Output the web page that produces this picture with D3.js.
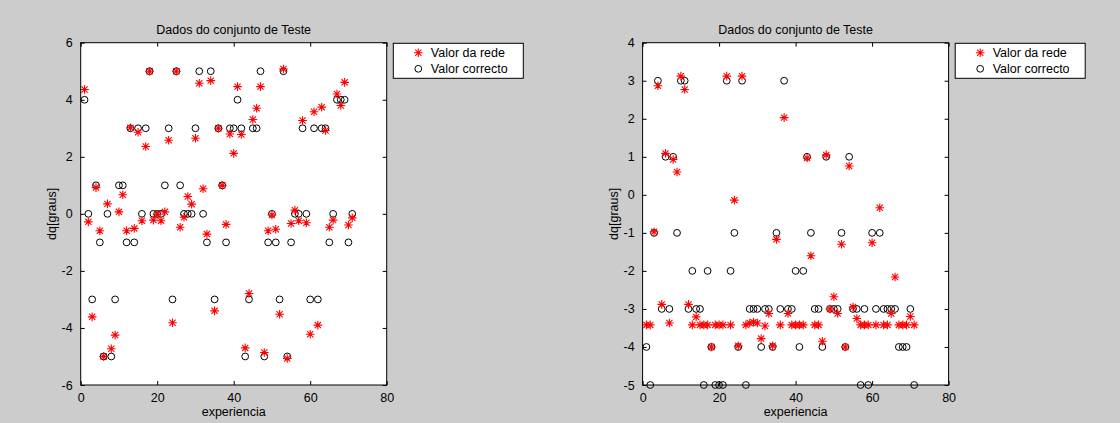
<!DOCTYPE html>
<html>
<head>
<meta charset="utf-8">
<script src="https://cdn.jsdelivr.net/npm/d3@7/dist/d3.min.js"></script>
<style>
  html, body { margin: 0; padding: 0; background: #cccccc; }
  svg { display: block; }
  text { font-family: "Liberation Sans", Arial, Helvetica, sans-serif; fill: #000; }
</style>
</head>
<body>
<svg id="chart" width="1120" height="423"></svg>
<script>
// Experiment number (x axis) shared by both plots
const experiencia = [
  1, 2, 3, 4, 5, 6, 7, 8, 9, 10, 11, 12, 13, 14, 15, 16, 17, 18, 19, 20,
  21, 22, 23, 24, 25, 26, 27, 28, 29, 30, 31, 32, 33, 34, 35, 36, 37, 38, 39, 40,
  41, 42, 43, 44, 45, 46, 47, 48, 49, 50, 51, 52, 53, 54, 55, 56, 57, 58, 59, 60,
  61, 62, 63, 64, 65, 66, 67, 68, 69, 70, 71
];

// Left plot: network output and correct value (dq, degrees)
const redeEsq = [
  4.36, -0.28, -3.61, 0.92, -0.59, -5.0, 0.35, -4.73, -4.25, 0.07,
  0.67, -0.59, 3.02, -0.51, 2.86, -0.24, 2.36, 5.0, -0.22, -0.02,
  -0.24, 0.07, 2.58, -3.82, 5.0, -0.47, -0.12, 0.61, 0.34, 2.65,
  4.58, 0.88, -0.71, 4.67, -3.4, 3.0, 1.0, -0.37, 2.8, 2.12,
  4.46, 2.78, -4.7, -2.79, 3.31, 3.7, 4.46, -4.86, -0.59, -0.04,
  -0.54, -3.52, 5.08, -5.07, -0.34, 0.13, -0.24, 3.27, -0.31, -4.22,
  3.58, -3.9, 3.74, 2.92, -0.47, -0.22, 4.2, 3.8, 4.61, -0.39, -0.14
];
const corrEsq = [
  4, 0, -3, 1, -1, -5, 0, -5, -3, 1,
  1, -1, 3, -1, 3, 0, 3, 5, 0, 0,
  0, 1, 3, -3, 5, 1, 0, 0, 0, 3,
  5, 0, -1, 5, -3, 3, 1, -1, 3, 3,
  4, 3, -5, -3, 3, 3, 5, -5, -1, 0,
  -1, -3, 5, -5, -1, 0, 0, 3, 0, -3,
  3, -3, 3, 3, -1, 0, 4, 4, 4, -1, 0
];

// Right plot: network output and correct value (dq, degrees)
const redeDir = [
  -3.42, -3.42, -0.97, 2.87, -2.88, 1.09, -3.37, 0.93, 0.6, 3.12,
  2.77, -2.88, -3.42, -3.21, -3.42, -3.42, -3.42, -4.0, -3.42, -3.42,
  -3.42, 3.12, -3.42, -0.14, -3.97, 3.12, -3.42, -3.37, -3.35, -3.37,
  -3.78, -3.45, -3.12, -3.97, -1.17, -3.42, 2.03, -3.12, -3.42, -3.42,
  -3.42, -3.42, 0.97, -1.6, -3.42, -3.42, -3.85, 1.05, -3.0, -2.68,
  -3.12, -1.3, -4.0, 0.76, -2.95, -3.25, -3.42, -3.42, -3.42, -1.26,
  -3.42, -0.34, -3.42, -3.42, -3.12, -2.16, -3.42, -3.42, -3.42, -3.2, -3.42
];
const corrDir = [
  -4, -5, -1, 3, -3, 1, -3, 1, -1, 3,
  3, -3, -2, -3, -3, -5, -2, -4, -5, -5,
  -5, 3, -2, -1, -4, 3, -5, -3, -3, -3,
  -4, -3, -3, -4, -1, -3, 3, -3, -3, -2,
  -4, -2, 1, -1, -3, -3, -4, 1, -3, -3,
  -3, -1, -4, 1, -3, -3, -5, -3, -5, -1,
  -3, -1, -3, -3, -3, -3, -4, -4, -4, -3, -5
];

// Axis ranges and tick values
const xDominio = [0, 80];
const xTicks = [0, 20, 40, 60, 80];
const yDominioEsq = [-6, 6];
const yTicksEsq = [-6, -4, -2, 0, 2, 4, 6];
const yDominioDir = [-5, 4];
const yTicksDir = [-5, -4, -3, -2, -1, 0, 1, 2, 3, 4];

// Text
const titulo = "Dados do conjunto de Teste";
const rotuloX = "experiencia";
const rotuloY = "dq[graus]";
const legendaNomes = ["Valor da rede", "Valor correcto"];

const svg = d3.select("#chart");

const paineis = [
  { left: 80.7, yDom: yDominioEsq, yTicks: yTicksEsq, rede: redeEsq, corr: corrEsq },
  { left: 642.6, yDom: yDominioDir, yTicks: yTicksDir, rede: redeDir, corr: corrDir }
];

const axTop = 42.7, axBottom = 385, axW = 306;
const tickLen = 4;
const fontSize = 12.5;

// '*' marker: plus sign overlaid with a cross
function starPath(cx, cy, r) {
  const d = r * 0.72;
  return `M${cx - r},${cy}L${cx + r},${cy}M${cx},${cy - r}L${cx},${cy + r}` +
         `M${cx - d},${cy - d}L${cx + d},${cy + d}M${cx - d},${cy + d}L${cx + d},${cy - d}`;
}

paineis.forEach(p => {
  const x = d3.scaleLinear().domain(xDominio).range([p.left, p.left + axW]);
  const y = d3.scaleLinear().domain(p.yDom).range([axBottom, axTop]);
  const g = svg.append("g");

  // white plotting area
  g.append("rect")
    .attr("x", p.left).attr("y", axTop)
    .attr("width", axW).attr("height", axBottom - axTop)
    .attr("fill", "#ffffff");

  // data: correct values (circles)
  const dadosCorr = experiencia.map((e, i) => ({ e, v: p.corr[i] }));
  const dadosRede = experiencia.map((e, i) => ({ e, v: p.rede[i] }));

  g.append("g").selectAll("circle").data(dadosCorr).join("circle")
    .attr("cx", d => x(d.e)).attr("cy", d => y(d.v)).attr("r", 3.4)
    .attr("fill", "none").attr("stroke", "#000").attr("stroke-width", 1);

  // data: network output (red stars)
  g.append("g").selectAll("path").data(dadosRede).join("path")
    .attr("d", d => starPath(x(d.e), y(d.v), 4.3))
    .attr("fill", "none").attr("stroke", "#ff0000").attr("stroke-width", 1.1);

  // axes with inward ticks on all four sides
  const axB = d3.axisBottom(x).tickValues(xTicks).tickSizeInner(-tickLen).tickSizeOuter(0).tickPadding(8);
  const axT = d3.axisTop(x).tickValues(xTicks).tickSizeInner(-tickLen).tickSizeOuter(0).tickFormat("");
  const axL = d3.axisLeft(y).tickValues(p.yTicks).tickSizeInner(-tickLen).tickSizeOuter(0).tickPadding(8);
  const axR = d3.axisRight(y).tickValues(p.yTicks).tickSizeInner(-tickLen).tickSizeOuter(0).tickFormat("");

  const gb = g.append("g").attr("transform", `translate(0,${axBottom})`).call(axB);
  const gt = g.append("g").attr("transform", `translate(0,${axTop})`).call(axT);
  const gl = g.append("g").attr("transform", `translate(${p.left},0)`).call(axL);
  const gr = g.append("g").attr("transform", `translate(${p.left + axW},0)`).call(axR);

  [gb, gt, gl, gr].forEach(a => {
    a.select(".domain").remove();
    a.selectAll("line").attr("stroke", "#000");
    a.selectAll("text")
      .style("font-family", '"Liberation Sans", Arial, sans-serif')
      .style("font-size", fontSize + "px").attr("fill", "#000");
  });
  gl.selectAll("text").text(d => d < 0 ? "-" + Math.abs(d) : d);

  // frame
  g.append("rect")
    .attr("x", p.left).attr("y", axTop)
    .attr("width", axW).attr("height", axBottom - axTop)
    .attr("fill", "none").attr("stroke", "#000").attr("stroke-width", 1);

  // title and axis labels
  g.append("text").attr("x", p.left + axW / 2).attr("y", 34)
    .attr("text-anchor", "middle").style("font-size", fontSize + "px").text(titulo);
  g.append("text").attr("x", p.left + axW / 2).attr("y", 416)
    .attr("text-anchor", "middle").style("font-size", fontSize + "px").text(rotuloX);
  g.append("text")
    .attr("transform", `translate(${p.left - 25},${(axTop + axBottom) / 2}) rotate(-90)`)
    .attr("text-anchor", "middle").style("font-size", fontSize + "px").text(rotuloY);

  // legend
  const lx = p.left + 312.6, ly = 43.3, lw = 130, lh = 35;
  const lg = g.append("g");
  lg.append("rect").attr("x", lx).attr("y", ly).attr("width", lw).attr("height", lh)
    .attr("fill", "#ffffff").attr("stroke", "#000").attr("stroke-width", 1);
  legendaNomes.forEach((nome, i) => {
    const cy = ly + 9.5 + i * 16;
    if (i === 0) {
      lg.append("path").attr("d", starPath(lx + 25, cy, 4.3))
        .attr("fill", "none").attr("stroke", "#ff0000").attr("stroke-width", 1.1);
    } else {
      lg.append("circle").attr("cx", lx + 25).attr("cy", cy).attr("r", 3.4)
        .attr("fill", "none").attr("stroke", "#000");
    }
    lg.append("text").attr("x", lx + 37.5).attr("y", cy + 4.5)
      .style("font-size", fontSize + "px").text(nome);
  });
});
</script>
</body>
</html>
